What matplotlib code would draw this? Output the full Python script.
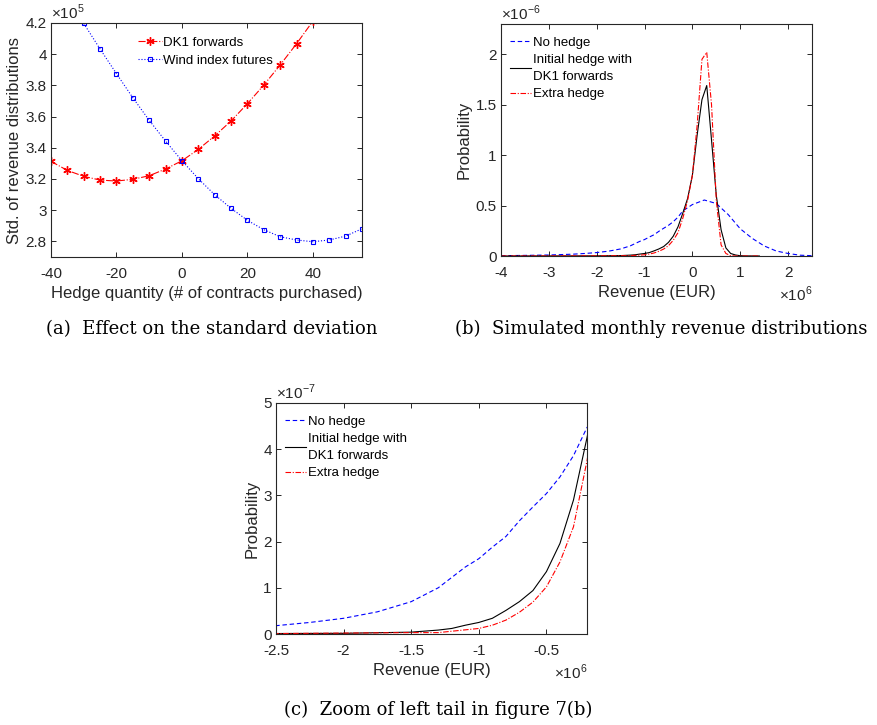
import matplotlib
matplotlib.use("Agg")
import matplotlib.pyplot as plt
import numpy as np

# ---------------- data ----------------
# (a) std of revenue distribution vs hedge quantity (x1e5)
hedge_qty_dk1 = [-40, -35, -30, -25, -20, -15, -10, -5, 0, 5, 10, 15, 20, 25, 30, 35, 40, 45]
std_dk1 = [3.313, 3.255, 3.217, 3.193, 3.187, 3.198, 3.221, 3.264, 3.317, 3.390, 3.476,
           3.572, 3.683, 3.802, 3.931, 4.067, 4.212, 4.36]
hedge_qty_wind = [-30, -25, -20, -15, -10, -5, 0, 5, 10, 15, 20, 25, 30, 35, 40, 45, 50, 55]
std_wind = [4.197, 4.033, 3.875, 3.721, 3.576, 3.443, 3.317, 3.202, 3.099, 3.012, 2.935,
            2.875, 2.830, 2.809, 2.798, 2.809, 2.834, 2.881]

# (b)/(c) revenue densities (revenue x1e6, probability x1e-6)
rev_nohedge = [-4.0, -3.5, -3.0, -2.5, -2.25, -2.0, -1.75, -1.5, -1.3, -1.1, -1.0, -0.9, -0.8,
               -0.7, -0.6, -0.5, -0.4, -0.3, -0.2, 0.0, 0.25, 0.5, 0.75, 1.0, 1.25, 1.5,
               1.75, 2.0, 2.25, 2.5]
p_nohedge = [0.003, 0.006, 0.010, 0.018, 0.025, 0.034, 0.048, 0.070, 0.100, 0.145, 0.163,
             0.188, 0.211, 0.245, 0.275, 0.304, 0.340, 0.386, 0.447, 0.510, 0.555, 0.520,
             0.410, 0.270, 0.175, 0.100, 0.050, 0.025, 0.008, 0.003]

rev_initial = [-4.0, -3.0, -2.5, -2.0, -1.5, -1.3, -1.2, -1.1, -1.0, -0.9, -0.8, -0.7, -0.6,
               -0.5, -0.4, -0.3, -0.2, -0.1, 0.0, 0.1, 0.2, 0.3, 0.4, 0.5, 0.6, 0.7, 0.8,
               0.9, 1.0, 1.1, 1.4]
p_initial = [0.0, 0.0005, 0.001, 0.0015, 0.004, 0.0085, 0.012, 0.019, 0.025, 0.034, 0.051,
             0.070, 0.094, 0.135, 0.196, 0.290, 0.425, 0.570, 0.800, 1.200, 1.550, 1.690,
             1.150, 0.600, 0.260, 0.080, 0.025, 0.010, 0.003, 0.001, 0.0]

rev_extra = [-4.0, -3.0, -2.5, -2.0, -1.5, -1.3, -1.2, -1.1, -1.0, -0.9, -0.8, -0.7, -0.6,
             -0.5, -0.4, -0.3, -0.2, -0.1, 0.0, 0.1, 0.2, 0.3, 0.4, 0.5, 0.6, 0.7, 0.8,
             0.9, 1.0, 1.4]
p_extra = [0.0, 0.0005, 0.001, 0.002, 0.003, 0.003, 0.006, 0.009, 0.012, 0.019, 0.030, 0.047,
           0.069, 0.102, 0.156, 0.232, 0.375, 0.550, 0.800, 1.300, 1.950, 2.020, 1.500,
           0.550, 0.110, 0.025, 0.003, 0.0, 0.0, 0.0]

labels_b = ["No hedge", "Initial hedge with\nDK1 forwards", "Extra hedge"]

xt_a = [-40, -20, 0, 20, 40]
yt_a = [2.8, 3.0, 3.2, 3.4, 3.6, 3.8, 4.0, 4.2]
xt_b = [-4, -3, -2, -1, 0, 1, 2]
yt_b = [0, 0.5, 1, 1.5, 2]
xt_c = [-2.5, -2, -1.5, -1, -0.5]
yt_c = [0, 1, 2, 3, 4, 5]

# ---------------- style ----------------
SANS = ["Liberation Sans", "DejaVu Sans"]
SERIF = ["DejaVu Serif"]
TXT = "#262626"
TICK_FS = 11
LAB_FS = 12
LEG_FS = 9.5
plt.rcParams.update({
    "font.family": SANS,
    "font.size": TICK_FS,
    "axes.edgecolor": TXT,
    "axes.linewidth": 0.8,
    "xtick.color": TXT,
    "ytick.color": TXT,
    "xtick.labelcolor": TXT,
    "ytick.labelcolor": TXT,
    "xtick.labelsize": TICK_FS,
    "ytick.labelsize": TICK_FS,
    "xtick.direction": "in",
    "ytick.direction": "in",
    "xtick.top": True,
    "ytick.right": True,
    "xtick.major.size": 3.5,
    "ytick.major.size": 3.5,
    "xtick.major.width": 0.7,
    "ytick.major.width": 0.7,
    "xtick.major.pad": 7.5,
    "ytick.major.pad": 3,
    "mathtext.fontset": "custom",
    "mathtext.rm": "Liberation Sans",
})

W, H = 878, 725
fig = plt.figure(figsize=(W / 100, H / 100), dpi=100)


def rect(l, t, r, b):
    return [l / W, 1 - b / H, (r - l) / W, (b - t) / H]


def fmt(v):
    s = ("%.2f" % v).rstrip("0").rstrip(".")
    return "0" if s in ("-0", "") else s


def style_legend(leg):
    for t in leg.get_texts():
        t.set_linespacing(1.5)
        t.set_color("black")


DASH = (0, (4, 2.5))
DASHDOT = (0, (5, 1.5, 1, 1.5))

# ---------------- (a) ----------------
ax = fig.add_axes(rect(51, 23, 362, 257))
ax.plot(hedge_qty_dk1, std_dk1, color="red", ls="-.", lw=0.8, marker=(6, 2, 0), ms=6,
        mec="red", mfc="red", mew=1.0, label="DK1 forwards")
ax.plot(hedge_qty_wind, std_wind, color="blue", ls=":", lw=0.8, marker="s", ms=3.5,
        mec="blue", mfc="none", mew=0.8, label="Wind index futures")
ax.set_xlim(-40, 55)
ax.set_ylim(2.7, 4.2)
ax.set_xticks(xt_a)
ax.set_xticklabels([fmt(v) for v in xt_a])
ax.set_yticks(yt_a)
ax.set_yticklabels([fmt(v) for v in yt_a])
ax.set_xlabel("Hedge quantity (# of contracts purchased)", color=TXT, fontsize=LAB_FS, labelpad=3)
ax.set_ylabel("Std. of revenue distributions", color=TXT, fontsize=LAB_FS, labelpad=3)
ax.text(0.0, 1.005, r"$\times10^{5}$", transform=ax.transAxes, ha="left", va="bottom",
        color=TXT, fontsize=TICK_FS)
leg = ax.legend(loc="upper left", bbox_to_anchor=(0.255, 0.975), frameon=False, handlelength=1.8,
                handletextpad=0.1, labelspacing=0.4, fontsize=LEG_FS, borderaxespad=0.2)
style_legend(leg)


def density_axes(a, scale, xl, yl, xt, yt, exp_y):
    a.plot(rev_nohedge, [v * scale for v in p_nohedge], color="blue", ls=DASH, lw=0.8,
           label=labels_b[0])
    a.plot(rev_initial, [v * scale for v in p_initial], color="black", ls="-", lw=0.8,
           label=labels_b[1])
    a.plot(rev_extra, [v * scale for v in p_extra], color="red", ls=DASHDOT, lw=0.8,
           label=labels_b[2])
    a.set_xlim(*xl)
    a.set_ylim(*yl)
    a.set_xticks(xt)
    a.set_xticklabels([fmt(v) for v in xt])
    a.set_yticks(yt)
    a.set_yticklabels([fmt(v) for v in yt])
    a.set_ylabel("Probability", color=TXT, fontsize=LAB_FS, labelpad=3)
    a.set_xlabel("Revenue (EUR)", color=TXT, fontsize=LAB_FS, labelpad=3)
    a.text(0.0, 1.005, exp_y, transform=a.transAxes, ha="left", va="bottom",
           color=TXT, fontsize=TICK_FS)
    a.text(1.0, -0.125, r"$\times10^{6}$", transform=a.transAxes, ha="right", va="top",
           color=TXT, fontsize=TICK_FS)
    lg = a.legend(loc="upper left", bbox_to_anchor=(0.0, 0.985), frameon=False, handlelength=1.6,
                  handletextpad=0.15, labelspacing=0.4, fontsize=LEG_FS, borderaxespad=0.3)
    style_legend(lg)


# ---------------- (b) ----------------
axb = fig.add_axes(rect(501, 24, 812, 256))
density_axes(axb, 1.0, (-4, 2.5), (0, 2.3), xt_b, yt_b, r"$\times10^{-6}$")

# ---------------- (c) ----------------
axc = fig.add_axes(rect(276, 403, 587, 634))
density_axes(axc, 10.0, (-2.5, -0.2), (0, 5), xt_c, yt_c, r"$\times10^{-7}$")

# ---------------- captions ----------------
fig.text(212 / W, 1 - 329 / H, "(a)  Effect on the standard deviation", ha="center",
         va="center", family=SERIF, fontsize=13, color="black")
fig.text(661 / W, 1 - 329 / H, "(b)  Simulated monthly revenue distributions", ha="center",
         va="center", family=SERIF, fontsize=13, color="black")
fig.text(438 / W, 1 - 710 / H, "(c)  Zoom of left tail in figure 7(b)", ha="center",
         va="center", family=SERIF, fontsize=13, color="black")

fig.savefig("out.png", dpi=100)
